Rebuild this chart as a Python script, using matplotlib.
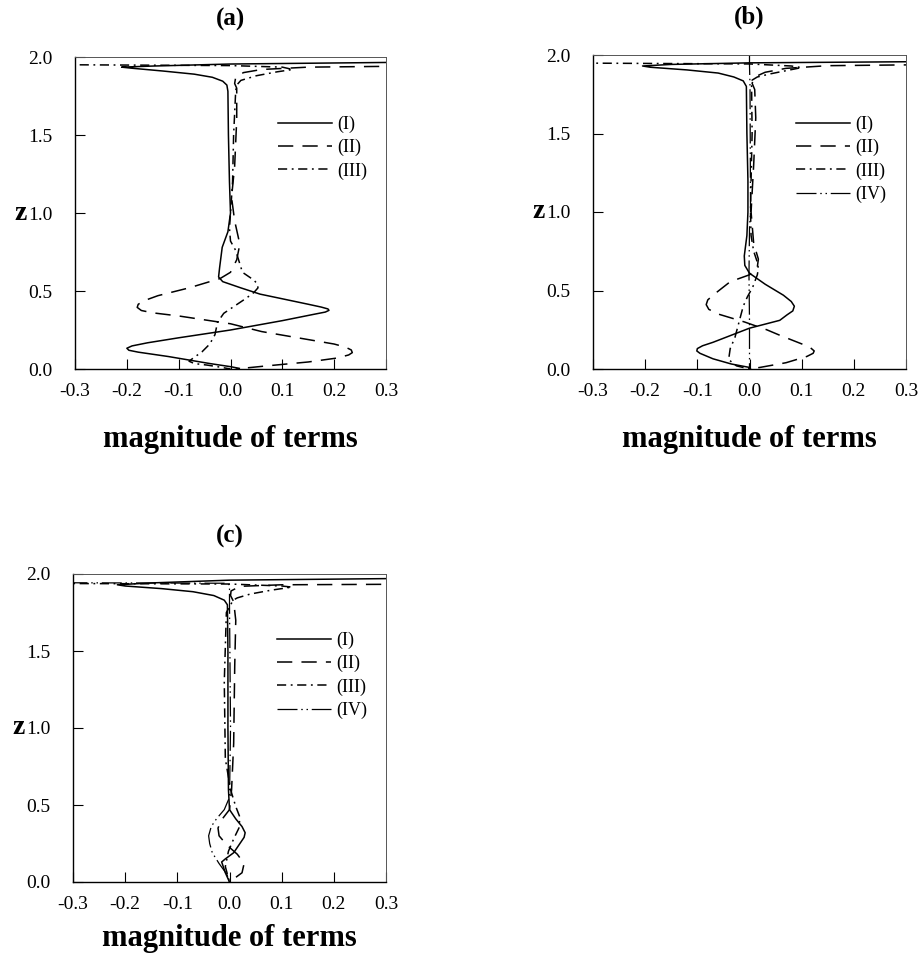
import matplotlib
matplotlib.use('Agg')
import matplotlib.pyplot as plt
from matplotlib.ticker import FormatStrFormatter

plt.rcParams['font.family'] = ['Liberation Serif', 'DejaVu Serif']
plt.rcParams['axes.unicode_minus'] = False

# ---- panel (a): terms I-III, (x = magnitude, z = height) ----
a1_x = [0.9, 0.3, 0.0, -0.15, -0.21, -0.19, -0.13, -0.07, -0.035, -0.015, -0.007, -0.005, -0.004, -0.002, 0.0,
        -0.005, -0.016, -0.021, -0.023, -0.015, 0.02, 0.057, 0.1, 0.15, 0.175, 0.188, 0.19, 0.183, 0.16, 0.1,
        0.0, -0.1, -0.16, -0.19, -0.2, -0.196, -0.178, -0.12, -0.04, 0.0, 0.017]
a1_z = [1.975, 1.965, 1.955, 1.942, 1.935, 1.928, 1.91, 1.89, 1.87, 1.845, 1.82, 1.78, 1.5, 1.2, 1.0,
        0.88, 0.78, 0.65, 0.59, 0.56, 0.52, 0.48, 0.45, 0.415, 0.397, 0.385, 0.376, 0.365, 0.35, 0.31,
        0.25, 0.2, 0.168, 0.148, 0.133, 0.12, 0.108, 0.08, 0.035, 0.015, 0.004]
a2_x = [0.9, 0.3, 0.15, 0.06, 0.025, 0.01, 0.008, 0.012, 0.012, 0.008, 0.002, 0.008, 0.018, 0.012, 0.0, -0.02,
        -0.08, -0.14, -0.165, -0.178, -0.18, -0.172, -0.15, -0.1, -0.03, 0.0, 0.06, 0.13, 0.2, 0.222, 0.233,
        0.235, 0.228, 0.205, 0.15, 0.07, 0.01]
a2_z = [1.942, 1.94, 1.935, 1.92, 1.9, 1.87, 1.83, 1.8, 1.6, 1.3, 1.1, 0.95, 0.8, 0.7, 0.62, 0.58,
        0.52, 0.47, 0.44, 0.415, 0.395, 0.375, 0.36, 0.34, 0.305, 0.29, 0.24, 0.2, 0.16, 0.14, 0.122,
        0.105, 0.09, 0.07, 0.045, 0.02, 0.0]
a3_x = [-0.9, -0.3, 0.0, 0.1, 0.12, 0.09, 0.05, 0.02, 0.012, 0.01, 0.006, 0.004, 0.0, -0.002, 0.0, 0.01, 0.023,
        0.045, 0.052, 0.053, 0.045, 0.03, -0.013, -0.025, -0.03, -0.04, -0.055, -0.072, -0.08, -0.07, -0.045,
        -0.02, 0.0]
a3_z = [1.952, 1.95, 1.945, 1.935, 1.92, 1.905, 1.88, 1.85, 1.82, 1.78, 1.5, 1.2, 1.0, 0.9, 0.82, 0.76, 0.62,
        0.57, 0.545, 0.52, 0.49, 0.453, 0.357, 0.3, 0.22, 0.16, 0.11, 0.07, 0.05, 0.035, 0.025, 0.012, 0.0]

# ---- panel (b): terms I-IV ----
b1_x = [0.9, 0.3, 0.0, -0.15, -0.205, -0.19, -0.12, -0.06, -0.03, -0.012, -0.006, -0.005, -0.003, -0.003,
        -0.005, -0.01, -0.009, 0.0, 0.03, 0.065, 0.08, 0.086, 0.083, 0.072, 0.058, 0.0, -0.07, -0.09, -0.1,
        -0.101, -0.095, -0.07, -0.035, 0.0, 0.002]
b1_z = [1.962, 1.957, 1.95, 1.94, 1.93, 1.922, 1.905, 1.885, 1.86, 1.835, 1.8, 1.5, 1.2, 1.0,
        0.85, 0.72, 0.66, 0.61, 0.54, 0.47, 0.43, 0.4, 0.37, 0.345, 0.31, 0.26, 0.17, 0.148, 0.13,
        0.115, 0.1, 0.065, 0.032, 0.01, 0.0]
b2_x = [0.9, 0.3, 0.15, 0.07, 0.03, 0.01, 0.005, 0.01, 0.012, 0.008, 0.003, 0.008, 0.017, 0.015, 0.0, -0.037,
        -0.07, -0.08, -0.083, -0.078, -0.06, -0.01, 0.033, 0.058, 0.1, 0.117, 0.124, 0.122, 0.11, 0.07, 0.02, 0.0]
b2_z = [1.94, 1.937, 1.932, 1.915, 1.89, 1.86, 1.82, 1.78, 1.6, 1.3, 1.0, 0.8, 0.7, 0.65, 0.6, 0.556,
        0.47, 0.44, 0.41, 0.38, 0.35, 0.3, 0.25, 0.215, 0.16, 0.135, 0.115, 0.1, 0.08, 0.04, 0.01, 0.0]
b3_x = [-0.9, -0.3, 0.0, 0.08, 0.1, 0.07, 0.04, 0.015, 0.005, 0.004, 0.005, 0.003, 0.002, 0.003, 0.008,
        0.015, 0.017, 0.015, 0.006, -0.004, -0.012, -0.02, -0.028, -0.037, -0.04, -0.025, 0.0]
b3_z = [1.95, 1.948, 1.943, 1.93, 1.92, 1.9, 1.88, 1.86, 1.84, 1.8, 1.5, 1.2, 1.0, 0.85, 0.75,
        0.68, 0.64, 0.6, 0.52, 0.46, 0.4, 0.3, 0.2, 0.13, 0.06, 0.02, 0.0]
b4_x = [0.0, 0.0, 0.001, 0.002, 0.0, -0.001, 0.0, 0.0]
b4_z = [2.0, 1.93, 1.8, 1.0, 0.9, 0.6, 0.3, 0.0]

# ---- panel (c): terms I-IV ----
c1_x = [0.9, 0.3, 0.0, -0.15, -0.215, -0.2, -0.13, -0.07, -0.03, -0.01, -0.004, -0.003, -0.003, -0.002,
        0.0, 0.012, 0.024, 0.03, 0.028, 0.02, 0.008, -0.008, -0.015, -0.008, 0.0]
c1_z = [1.975, 1.97, 1.96, 1.942, 1.93, 1.922, 1.905, 1.885, 1.86, 1.83, 1.8, 1.5, 1.0, 0.6,
        0.47, 0.41, 0.36, 0.32, 0.29, 0.25, 0.19, 0.15, 0.13, 0.06, 0.0]
c2_x = [0.9, 0.3, 0.1, 0.02, 0.003, 0.002, 0.008, 0.012, 0.01, 0.008, 0.004, 0.0, -0.016, -0.022, -0.02,
        -0.005, 0.015, 0.028, 0.024, 0.0]
c2_z = [1.935, 1.933, 1.93, 1.92, 1.89, 1.86, 1.82, 1.7, 1.4, 0.9, 0.6, 0.47, 0.4, 0.35, 0.3, 0.24,
        0.18, 0.12, 0.06, 0.0]
c3_x = [-0.9, -0.3, 0.0, 0.1, 0.12, 0.08, 0.04, 0.015, 0.007, -0.006, -0.01, -0.008, 0.002, 0.012, 0.02,
        0.018, 0.008, -0.002, -0.008, 0.0]
c3_z = [1.94, 1.938, 1.935, 1.922, 1.915, 1.895, 1.87, 1.845, 1.83, 1.75, 1.3, 0.8, 0.6, 0.49, 0.42,
        0.35, 0.28, 0.2, 0.1, 0.0]
c4_x = [-0.9, -0.3, -0.01, 0.0, 0.0, 0.002, 0.0, -0.01, -0.025, -0.035, -0.04, -0.038, -0.033, -0.02,
        -0.005, 0.0]
c4_z = [1.945, 1.943, 1.94, 1.93, 1.8, 1.0, 0.55, 0.47, 0.41, 0.36, 0.3, 0.25, 0.19, 0.12, 0.05, 0.0]

term_labels = ['(I)', '(II)', '(III)', '(IV)']
panel_titles = ['(a)', '(b)', '(c)']
x_ticks = [-0.3, -0.2, -0.1, 0.0, 0.1, 0.2, 0.3]
z_ticks = [0.0, 0.5, 1.0, 1.5, 2.0]

# line styles for the four terms
styles = ['-', (0, (10, 6)), (0, (6, 3, 1.2, 3)), (0, (16, 3, 1.2, 3, 1.2, 3))]

fig = plt.figure(figsize=(9.18, 9.58), dpi=100)

# axes boxes in figure pixels: left, bottom, width, height
boxes_px = [(75, 589, 311, 312), (593, 589, 313, 314), (73, 76, 313, 308)]
legend_anchor = [(0.653, 0.812), (0.649, 0.806), (0.652, 0.812)]
xlabel_gap_px = [56, 56, 42]

curves = [
    [(a1_x, a1_z), (a2_x, a2_z), (a3_x, a3_z)],
    [(b1_x, b1_z), (b2_x, b2_z), (b3_x, b3_z), (b4_x, b4_z)],
    [(c1_x, c1_z), (c2_x, c2_z), (c3_x, c3_z), (c4_x, c4_z)],
]

for k in range(3):
    left, bottom, w, h = boxes_px[k]
    ax = fig.add_axes([left / 918, bottom / 958, w / 918, h / 958])
    for i, (xs, zs) in enumerate(curves[k]):
        lw = 1.1 if i < 3 else 0.9
        ax.plot(xs, zs, color='black', linestyle=styles[i], linewidth=lw, label=term_labels[i])

    ax.set_xlim(-0.3, 0.3)
    ax.set_ylim(0.0, 2.0)
    ax.set_xticks(x_ticks)
    ax.set_yticks(z_ticks)
    ax.xaxis.set_major_formatter(FormatStrFormatter('%.1f'))
    ax.yaxis.set_major_formatter(FormatStrFormatter('%.1f'))
    ax.tick_params(axis='x', direction='in', length=7, width=0.8, pad=10, labelsize=14)
    ax.tick_params(axis='y', direction='in', length=7, width=0.8, pad=16, labelsize=14)
    for side in ['left', 'bottom']:
        ax.spines[side].set_linewidth(1.0)
    for side in ['top', 'right']:
        ax.spines[side].set_linewidth(0.7)
        ax.spines[side].set_color('#555555')

    ax.set_xlabel('magnitude of terms', fontsize=22, fontweight='bold')
    ax.xaxis.set_label_coords(0.5, -xlabel_gap_px[k] / h)
    ax.set_ylabel('z', fontsize=20, fontweight='bold', rotation=0, va='center', ha='center')
    ax.yaxis.set_label_coords(-54 / w, 0.5)
    ax.text(0.5, 1 + 38 / h, panel_titles[k], transform=ax.transAxes, ha='center', va='center',
            fontsize=18, fontweight='bold')

    ax.legend(loc='upper left', bbox_to_anchor=legend_anchor[k], frameon=False, fontsize=13,
              handlelength=3.0, handletextpad=0.3, labelspacing=0.33, borderpad=0, borderaxespad=0)

fig.savefig('out.png', dpi=100)
